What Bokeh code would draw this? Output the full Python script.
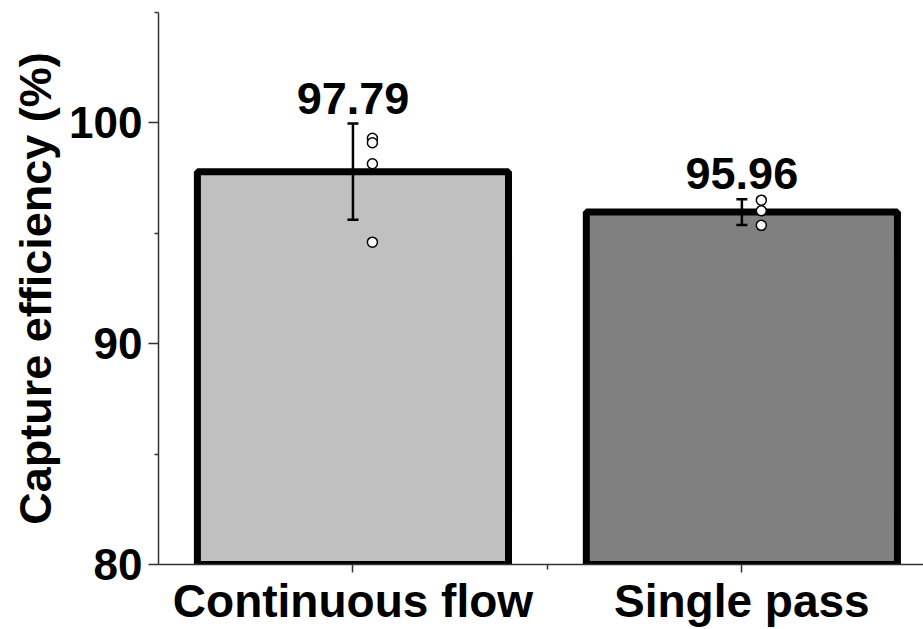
from bokeh.plotting import figure
from bokeh.models import Range1d, FixedTicker, ColumnDataSource, LabelSet, Title
from bokeh.embed import file_html
from bokeh.resources import INLINE
from bokeh.core.properties import value

# ---- data ----
categories = ["Continuous flow", "Single pass"]
cat_pos = [1, 2]
means = [97.79, 95.96]
sds = [2.18, 0.58]
bar_colors = ["#c0c0c0", "#808080"]
cf_points = [99.3, 99.1, 98.15, 94.6]
sp_points = [96.5, 96.02, 95.36]
y_ticks = [80, 90, 100]
y_minor = [85, 95, 105]
y_title = "Capture efficiency (%)"

FONT = "Liberation Sans"
point_offset = 0.05

X0, X1, Y0, Y1 = 0.5, 2.467, 80, 105
W, H = 923, 629
LEFT, TOP, BOTTOM = 158, 12, 63

p = figure(width=W, height=H, x_range=Range1d(X0, X1), y_range=Range1d(Y0, Y1),
           output_backend="svg", toolbar_location=None,
           min_border_left=LEFT, min_border_right=0, min_border_top=TOP, min_border_bottom=BOTTOM)
p.outline_line_color = None
p.xgrid.visible = False
p.ygrid.visible = False
p.background_fill_color = "white"
p.border_fill_color = "white"

bars = ColumnDataSource(dict(x=cat_pos, top=means, color=bar_colors,
                             upper=[m + s for m, s in zip(means, sds)],
                             lower=[m - s for m, s in zip(means, sds)],
                             label=["%.2f" % m for m in means]))
p.vbar(x="x", top="top", bottom=Y0, width=0.8, fill_color="color", line_color="black",
       line_width=7, source=bars)

# error bars
p.segment(x0="x", y0="lower", x1="x", y1="upper", line_color="black", line_width=2.5, source=bars)
p.scatter(x="x", y="upper", marker="dash", size=11, line_color="black", line_width=2.5, source=bars)
p.scatter(x="x", y="lower", marker="dash", size=11, line_color="black", line_width=2.5, source=bars)

# individual points
px = [cat_pos[0] + point_offset] * len(cf_points) + [cat_pos[1] + point_offset] * len(sp_points)
py = cf_points + sp_points
p.scatter(x=px, y=py, marker="circle", size=10, fill_color="white", line_color="black", line_width=1.5)

# value labels
p.add_layout(LabelSet(x="x", y="upper", text="label", source=bars, text_align="center",
                      text_baseline="alphabetic", y_offset=10, text_font=value(FONT),
                      text_font_style="bold", text_font_size="45px", text_color="black"))

# y title as a side title
p.add_layout(Title(text=y_title, align="center", standoff=12, text_font=FONT,
                   text_font_style="bold", text_font_size="45px", text_color="black"), "left")

# axes
yax = p.yaxis[0]
yax.ticker = FixedTicker(ticks=y_ticks, minor_ticks=y_minor)
yax.major_label_text_font = FONT
yax.major_label_text_font_style = "bold"
yax.major_label_text_font_size = "44px"
yax.major_label_text_color = "black"
yax.major_label_standoff = 6
yax.major_tick_out = 10
yax.major_tick_in = 0
yax.minor_tick_out = 4
yax.minor_tick_in = 0
yax.axis_line_color = "#333333"
yax.axis_line_width = 1.5
yax.major_tick_line_color = "#333333"
yax.major_tick_line_width = 1.5
yax.minor_tick_line_color = "#333333"
yax.minor_tick_line_width = 1.5

xax = p.xaxis[0]
xax.ticker = FixedTicker(ticks=cat_pos, minor_ticks=[1.5, 2.5])
xax.major_label_overrides = {c: lab for c, lab in zip(cat_pos, categories)}
xax.major_label_text_font = FONT
xax.major_label_text_font_style = "bold"
xax.major_label_text_font_size = "46px"
xax.major_label_text_color = "black"
xax.major_label_standoff = 2
xax.major_tick_out = 8
xax.major_tick_in = 0
xax.minor_tick_out = 5
xax.minor_tick_in = 0
xax.axis_line_color = "#333333"
xax.axis_line_width = 1.5
xax.major_tick_line_color = "#333333"
xax.major_tick_line_width = 1.5
xax.minor_tick_line_color = "#333333"
xax.minor_tick_line_width = 1.5

open("out.html", "w").write(file_html(p, INLINE))
